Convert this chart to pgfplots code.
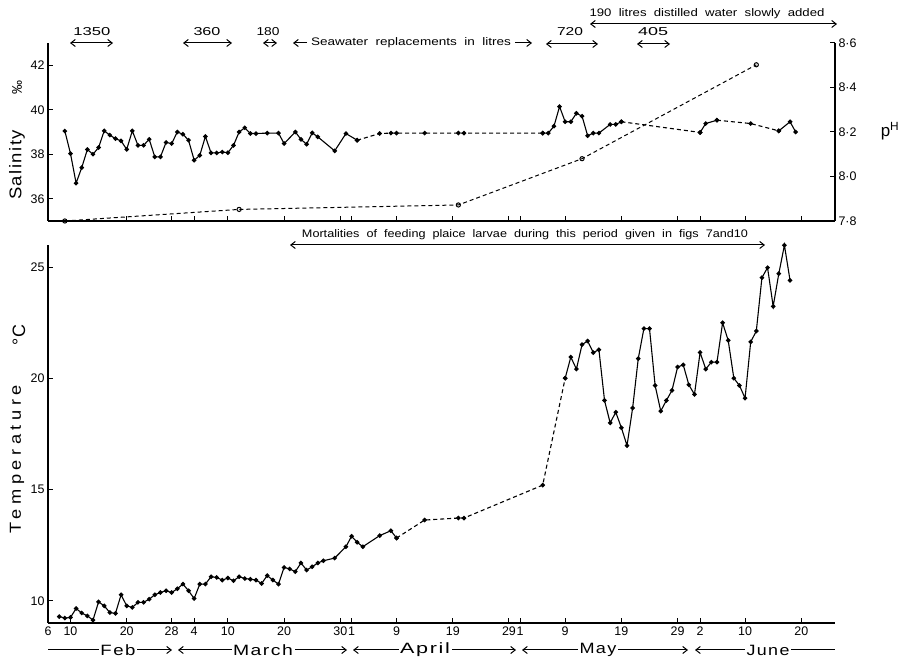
\documentclass[border=0pt]{standalone}
\usepackage{pgfplots}
\pgfplotsset{compat=1.18}
\usetikzlibrary{arrows.meta}
\usepackage{graphicx}
\usepackage{fontspec}
\setmainfont{Liberation Sans}
\newfontfamily\lsfont[LetterSpace=25]{Liberation Sans}
\newfontfamily\msfont[LetterSpace=8]{Liberation Sans}
\newcommand\fitw[2]{\resizebox{#1}{\height}{#2}}
\pgfplotsset{
  every axis/.append style={
    scale only axis, anchor=south west,
    tick align=inside, major tick length=5bp,
    axis line style={line width=1.2bp},
    tick style={line width=1bp, black},
    /pgf/number format/assume math mode=true,
    ticklabel style={font=\fontsize{12.5}{12.5}\selectfont},
    xmin=37, xmax=177, clip=false,
  },
  sol/.style={black, line width=1.1bp, mark=*, mark size=1.7bp, mark options={solid, fill=black}},
  dsh/.style={black, line width=1.1bp, dash pattern=on 4bp off 3bp, mark=*, mark size=1.7bp, mark options={solid, fill=black}},
}
\begin{document}
\begin{tikzpicture}[x=1bp,y=1bp]
\useasboundingbox (0,0) rectangle (908,664);

% ---------------- bottom panel: temperature
\begin{axis}[
  at={(48bp,41bp)}, width=787bp, height=378bp,
  ymin=9, ymax=26,
  axis x line*=bottom, axis y line*=left,
  xtick={37,41,51,59,63,69,79,89,91,99,109,119,121,129,139,149,153,161,171},
  xticklabels={6,10,20,28,4,10,20,30,1,9,19,29,1,9,19,29,2,10,20},
  ytick={10,15,20,25},
]
\addplot[sol] coordinates {
(39,9.29)(40,9.22)(41,9.25)(42,9.65)(43,9.45)(44,9.32)(45,9.13)(46,9.95)(47,9.77)(48,9.47)
(49,9.43)(50,10.27)(51,9.77)(52,9.70)(53,9.93)(54,9.93)(55,10.07)(56,10.27)(57,10.37)(58,10.45)
(59,10.37)(60,10.54)(61,10.75)(62,10.45)(63,10.10)(64,10.75)(65,10.75)(66,11.08)(67,11.05)(68,10.93)
(69,11.02)(70,10.90)(71,11.08)(72,11.00)(73,10.97)(74,10.93)(75,10.78)(76,11.13)(77,10.93)(78,10.75)
(79,11.50)(80,11.43)(81,11.31)(82,11.70)(83,11.38)(84,11.53)(85,11.70)(86,11.80)(88,11.92)(90,12.43)
(91,12.90)(92,12.63)(93,12.43)(96,12.93)(98,13.15)(99,12.82)};
\addplot[dsh] coordinates {(99,12.82)(104,13.63)(110,13.72)(111,13.72)(125,15.2)(129,20.01)};
\addplot[sol] coordinates {
(129,20.01)(130,20.96)(131,20.42)(132,21.52)(133,21.68)(134,21.16)(135,21.29)(136,19.01)(137,18.0)(138,18.48)
(139,17.78)(140,16.98)(141,18.67)(142,20.89)(143,22.24)(144,22.24)(145,19.68)(146,18.53)(147,19.01)(148,19.46)
(149,20.51)(150,20.61)(151,19.71)(152,19.28)(153,21.17)(154,20.42)(155,20.73)(156,20.73)(157,22.5)(158,21.71)
(159,20.01)(160,19.68)(161,19.11)(162,21.64)(163,22.13)(164,24.53)(165,24.98)(166,23.24)(167,24.71)(168,25.99)
(169,24.41)};
\end{axis}

% ---------------- top panel: salinity (left)
\begin{axis}[
  at={(48bp,443bp)}, width=787bp, height=178bp,
  ymin=35, ymax=43,
  axis x line*=bottom, axis y line*=left,
  xtick={51,59,63,69,79,89,91,99,109,119,121,129,139,149,153,161,171},
  xticklabels={},
  ytick={36,38,40,42},
]
\addplot[black, line width=1bp, dash pattern=on 4bp off 3bp, mark=o, mark size=2.1bp, mark options={solid, fill=white}]
 coordinates {(40,35.0)(71,35.52)(110,35.72)(132,37.8)(163,42.02)};
\end{axis}

% ---------------- top panel: pH (right)
\begin{axis}[
  at={(48bp,443bp)}, width=787bp, height=178bp,
  ymin=7.8, ymax=8.6,
  axis x line=none, axis y line*=right,
  ytick={7.8,8.0,8.2,8.4,8.6},
  yticklabels={7·8,8·0,8·2,8·4,8·6},
]
\addplot[sol] coordinates {
(40,8.204)(41,8.103)(42,7.970)(43,8.04)(44,8.121)(45,8.10)(46,8.13)(47,8.205)(48,8.186)(49,8.17)
(50,8.16)(51,8.122)(52,8.205)(53,8.14)(54,8.14)(55,8.167)(56,8.088)(57,8.088)(58,8.153)(59,8.148)
(60,8.2)(61,8.19)(62,8.163)(63,8.073)(64,8.095)(65,8.18)(66,8.106)(67,8.106)(68,8.11)(69,8.107)
(70,8.14)(71,8.2)(72,8.219)(73,8.193)(74,8.193)(76,8.195)(78,8.195)(79,8.148)(81,8.2)(82,8.167)
(83,8.145)(84,8.196)(85,8.178)(88,8.115)(90,8.193)(92,8.163)};
\addplot[dsh] coordinates {(92,8.163)(96,8.193)(98,8.195)(99,8.195)(104,8.195)(110,8.195)(111,8.195)(125,8.195)};
\addplot[sol] coordinates {(125,8.195)(126,8.195)(127,8.226)(128,8.314)(129,8.246)(130,8.246)(131,8.284)(132,8.271)
(133,8.183)(134,8.195)(135,8.195)(137,8.234)(138,8.234)(139,8.246)};
\addplot[dsh] coordinates {(139,8.246)(153,8.198)};
\addplot[sol] coordinates {(153,8.198)(154,8.238)(156,8.253)};
\addplot[dsh] coordinates {(156,8.253)(162,8.238)(167,8.205)};
\addplot[sol] coordinates {(167,8.205)(169,8.246)(170,8.2)};
\end{axis}

% ---------------- annotations
\tikzset{arr/.style={line width=1bp, -{Straight Barb[length=4.5bp,width=7bp]}},
         darr/.style={line width=1bp, {Straight Barb[length=4.5bp,width=7bp]}-{Straight Barb[length=4.5bp,width=7bp]}}}
\def\numf{\fontsize{11.5}{11.5}\selectfont}
\def\annf{\fontsize{11}{11}\selectfont}
\node[inner sep=0] at (92,632) {\fitw{37bp}{\numf 1350}};
\draw[darr] (70,621) -- (113,621);
\node[inner sep=0] at (207,632) {\fitw{27bp}{\numf 360}};
\draw[darr] (183,621) -- (232,621);
\node[inner sep=0] at (268,632) {\fitw{23bp}{\numf 180}};
\draw[darr] (263,621) -- (277,621);
\node[inner sep=0] (sw) at (411,621) {\fitw{200bp}{\annf Seawater\ \ replacements\ \ in\ \ litres}};
\draw[arr] (307,621) -- (293,621);
\draw[arr] (515,621) -- (532,621);
\node[inner sep=0] at (570,632) {\fitw{26bp}{\numf 720}};
\draw[darr] (546,620) -- (598,620);
\node[inner sep=0] at (653,632) {\fitw{30bp}{\numf 405}};
\draw[darr] (637,620) -- (670,620);
\node[inner sep=0] at (707,650) {\fitw{235bp}{\annf 190\ \ litres\ \ distilled\ \ water\ \ slowly\ \ added}};
\draw[darr] (590,640) -- (837,640);
\node[inner sep=0] at (525,429) {\fitw{446bp}{\annf Mortalities\ \ of\ \ feeding\ \ plaice\ \ larvae\ \ during\ \ this\ \ period\ \ given\ \ in\ \ figs\ \ 7and10}};
\draw[darr] (290,419) -- (765,419);

% axis titles
\node[rotate=90, inner sep=0] at (17,499) {\fitw{70bp}{\fontsize{17}{17}\msfont Salinity}};
\node[rotate=90, inner sep=0] at (17,576) {\fontsize{14}{14}\selectfont ‰};
\node[rotate=90, inner sep=0] at (17,205) {\fitw{148bp}{\fontsize{16}{16}\lsfont Temperature}};
\node[rotate=90, inner sep=0] at (19,329) {\fontsize{18}{18}\selectfont °C};
\node[inner sep=0] at (890,533) {\fontsize{17}{17}\selectfont p\textsuperscript{H}};

% month labels
\def\monf{\fontsize{15}{15}\msfont}
\draw[arr] (48,14) -- (172,14);
\node[fill=white, inner xsep=1.5bp, inner ysep=0] at (118,14) {\fitw{35bp}{\monf Feb}};
\draw[darr] (178,14) -- (347,14);
\node[fill=white, inner xsep=1.5bp, inner ysep=0] at (263,14) {\fitw{60bp}{\monf March}};
\draw[darr] (353,14) -- (516,14);
\node[fill=white, inner xsep=1.5bp, inner ysep=0] at (425,14) {\fitw{50bp}{\monf April}};
\draw[darr] (522,14) -- (688,14);
\node[fill=white, inner xsep=1.5bp, inner ysep=0] at (598,14) {\fitw{37bp}{\monf May}};
\draw[line width=1bp, {Straight Barb[length=4.5bp,width=7bp]}-] (695,14) -- (835,14);
\node[fill=white, inner xsep=1.5bp, inner ysep=0] at (768,14) {\fitw{43bp}{\monf June}};
\end{tikzpicture}
\end{document}
